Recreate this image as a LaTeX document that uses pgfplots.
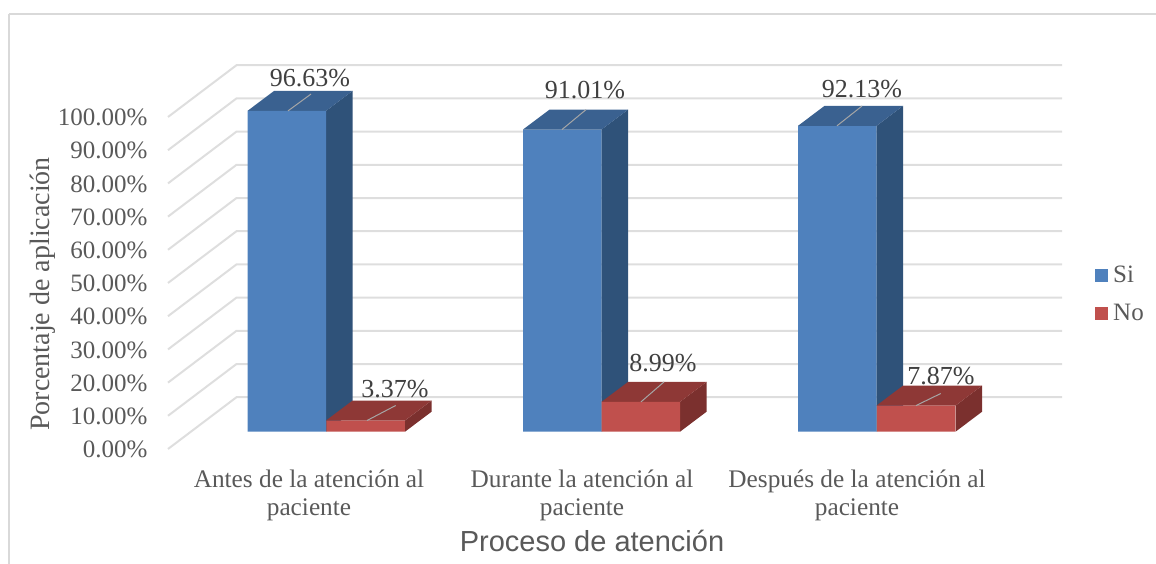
\documentclass[border=0pt]{standalone}
\usepackage{pgfplots}
\pgfplotsset{compat=1.18}
\usepackage{fontspec}
\setmainfont{Liberation Serif}
\newfontfamily\titlefont{Liberation Sans}
\definecolor{txt}{HTML}{595959}
\definecolor{lbl}{HTML}{404040}
\definecolor{gridc}{HTML}{DEDEDE}
\definecolor{framec}{HTML}{D9D9D9}
\definecolor{bluef}{HTML}{4F81BD}
\definecolor{bluet}{HTML}{3A6190}
\definecolor{blues}{HTML}{2F5279}
\definecolor{redf}{HTML}{C0504D}
\definecolor{redt}{HTML}{8E3836}
\definecolor{reds}{HTML}{7B302E}
\definecolor{lead}{HTML}{A6A6A6}
\pgfplotsset{
  base/.style={
    scale only axis, width=894pt, anchor=south west,
    xmin=168, xmax=1062, ymin=0, ymax=100, clip=false,
    axis line style={draw=none}, tick style={draw=none},
  },
  wall/.style={gridc, line width=2pt, forget plot},
  face/.style={draw=none, fill=#1, forget plot},
  leader/.style={lead, line width=1pt, forget plot},
}
\begin{document}
\begin{tikzpicture}[x=1pt,y=1pt]
\path[use as bounding box] (0,0) rectangle (1156,564);
% walls, frame and percentage scale
\begin{axis}[base, at={(168pt,115pt)}, height=332pt,
  xtick=\empty,
  ytick={0,10,...,100},
  yticklabels={0.00\%,10.00\%,20.00\%,30.00\%,40.00\%,50.00\%,60.00\%,70.00\%,80.00\%,90.00\%,100.00\%},
  yticklabel style={font=\fontsize{25}{28}\selectfont, text=txt, xshift=-17pt, yshift=-0.5pt},
  /pgf/number format/assume math mode=true,
  ylabel={Porcentaje de aplicación},
  every axis y label/.style={at={(axis description cs:-0.14,0.467)}, rotate=90, anchor=center,
    font=\fontsize{28}{30}\selectfont, text=txt},
]
\addplot[framec, line width=2pt, forget plot] coordinates {(9,131) (1156,131)};
\addplot[framec, line width=2pt, forget plot] coordinates {(9,131) (9,-34.7)};
\addplot[wall] coordinates {(168,0) (236.5,15.6) (1062,15.6)};
\addplot[wall] coordinates {(168,10) (236.5,25.6) (1062,25.6)};
\addplot[wall] coordinates {(168,20) (236.5,35.6) (1062,35.6)};
\addplot[wall] coordinates {(168,30) (236.5,45.6) (1062,45.6)};
\addplot[wall] coordinates {(168,40) (236.5,55.6) (1062,55.6)};
\addplot[wall] coordinates {(168,50) (236.5,65.6) (1062,65.6)};
\addplot[wall] coordinates {(168,60) (236.5,75.6) (1062,75.6)};
\addplot[wall] coordinates {(168,70) (236.5,85.6) (1062,85.6)};
\addplot[wall] coordinates {(168,80) (236.5,95.6) (1062,95.6)};
\addplot[wall] coordinates {(168,90) (236.5,105.6) (1062,105.6)};
\addplot[wall] coordinates {(168,100) (236.5,115.6) (1062,115.6)};
\end{axis}
% bars: front faces come from the values, tops and sides are offset by the depth (26.5, 6)
\begin{axis}[base, at={(168pt,132.3pt)}, height=332pt,
  ytick=\empty,
  xtick={309,582,857},
  xticklabels={{Antes de la atención al\\paciente},{Durante la atención al\\paciente},{Después de la atención al\\paciente}},
  xticklabel style={align=center, font=\fontsize{25.3}{28}\selectfont, text=txt, yshift=-35pt},
  xlabel={Proceso de atención},
  every axis x label/.style={at={(axis description cs:0.4743,-0.328)}, anchor=center,
    font=\titlefont\fontsize{29}{30}\selectfont, text=txt},
  legend style={at={(axis cs:1095,50.5)}, anchor=north west, draw=none, fill=none,
    font=\fontsize{25}{28}\selectfont, text=txt, row sep=16pt, inner sep=0pt},
  legend cell align=left,
  legend image code/.code={\fill[#1] (0pt,-6.5pt) rectangle (13pt,6.5pt); \path (16pt,0pt);},
]
% first group
\addplot[face=blues] coordinates {(326,0) (352.5,6) (352.5,102.63) (326,96.63)} --cycle;
\addplot[face=bluet] coordinates {(247.5,96.63) (326,96.63) (352.5,102.63) (274,102.63)} --cycle;
\addplot[ybar, bar width=78.5, bar shift=0pt, fill=bluef, draw=none] coordinates {(286.75,96.63) (562.25,91.01) (837.25,92.13)};
\addplot[face=reds] coordinates {(405,0) (431.5,6) (431.5,9.37) (405,3.37)} --cycle;
\addplot[face=redt] coordinates {(326,3.37) (405,3.37) (431.5,9.37) (352.5,9.37)} --cycle;
% second group
\addplot[face=blues] coordinates {(601.5,0) (628,6) (628,97.01) (601.5,91.01)} --cycle;
\addplot[face=bluet] coordinates {(523,91.01) (601.5,91.01) (628,97.01) (549.5,97.01)} --cycle;
\addplot[face=reds] coordinates {(680,0) (706.5,6) (706.5,14.99) (680,8.99)} --cycle;
\addplot[face=redt] coordinates {(601.5,8.99) (680,8.99) (706.5,14.99) (628,14.99)} --cycle;
% third group
\addplot[face=blues] coordinates {(876.5,0) (903,6) (903,98.13) (876.5,92.13)} --cycle;
\addplot[face=bluet] coordinates {(798,92.13) (876.5,92.13) (903,98.13) (824.5,98.13)} --cycle;
\addplot[face=reds] coordinates {(955.5,0) (982,6) (982,13.87) (955.5,7.87)} --cycle;
\addplot[face=redt] coordinates {(876.5,7.87) (955.5,7.87) (982,13.87) (903,13.87)} --cycle;
\addplot[ybar, bar width=78.5, bar shift=0pt, fill=redf, draw=none] coordinates {(365.5,3.37) (640.75,8.99) (916,7.87)};
% leader lines and data labels
\addplot[leader] coordinates {(288,96.63) (311,101.7)};
\addplot[leader] coordinates {(562,91.01) (586,97)};
\addplot[leader] coordinates {(837,92.13) (862,98.1)};
\addplot[leader] coordinates {(367,3.37) (395.7,7.9)};
\addplot[leader] coordinates {(641,8.99) (664,15)};
\addplot[leader] coordinates {(916,7.87) (940.7,11.5)};
\node[text=lbl, font=\fontsize{26}{28}\selectfont] at (axis cs:310,106.5) {96.63\%};
\node[text=lbl, font=\fontsize{26}{28}\selectfont] at (axis cs:585,102.9) {91.01\%};
\node[text=lbl, font=\fontsize{26}{28}\selectfont] at (axis cs:862,103.2) {92.13\%};
\node[text=lbl, font=\fontsize{26}{28}\selectfont] at (axis cs:395,12.8) {3.37\%};
\node[text=lbl, font=\fontsize{26}{28}\selectfont] at (axis cs:663,20.6) {8.99\%};
\node[text=lbl, font=\fontsize{26}{28}\selectfont] at (axis cs:941,16.7) {7.87\%};
\legend{Si,No}
\end{axis}
\end{tikzpicture}
\end{document}
